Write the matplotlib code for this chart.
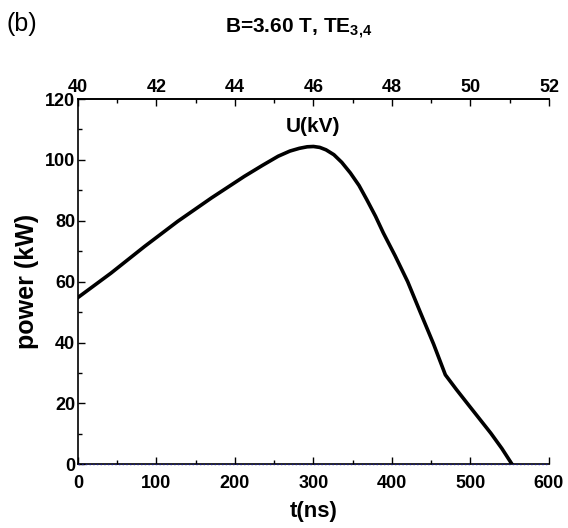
import matplotlib
matplotlib.use('Agg')
import matplotlib.pyplot as plt
from matplotlib.ticker import MultipleLocator

plt.rcParams['font.family'] = ['Liberation Sans', 'DejaVu Sans']
plt.rcParams['mathtext.fontset'] = 'custom'
plt.rcParams['mathtext.rm'] = 'Liberation Sans'
plt.rcParams['mathtext.bf'] = 'Liberation Sans:bold'

# power curve
t_ns = [0, 42, 85, 127, 170, 212, 235, 255, 270, 282, 292, 300, 308, 316,
        326, 336, 347, 358, 368, 379, 389, 404, 420, 436, 453, 468, 482,
        496, 511, 526, 540, 553]
power_kw = [54.8, 62.8, 71.6, 79.8, 87.5, 94.6, 98.2, 101.2, 102.9, 103.8,
            104.3, 104.4, 104.1, 103.3, 101.7, 99.2, 95.7, 91.6, 86.9, 81.5,
            76.0, 68.5, 60.0, 50.0, 39.5, 29.4, 24.6, 20.0, 15.1, 10.2,
            5.2, 0.0]

# flat zero trace along the bottom
zero_t = [0, 600]
zero_p = [0, 0]

top_ticks = [40, 42, 44, 46, 48, 50, 52]

fig = plt.figure(figsize=(5.68, 5.28), dpi=100)
ax = fig.add_axes([0.1373, 0.1206, 0.8292, 0.6919])

ax.plot(zero_t, zero_p, color='#1a1a8c', lw=1.0, ls=':', zorder=3, clip_on=False)
ax.plot(t_ns, power_kw, color='black', lw=2.6, zorder=4, solid_joinstyle='round')

ax.set_xlim(0, 600)
ax.set_ylim(0, 120)
ax.xaxis.set_major_locator(MultipleLocator(100))
ax.xaxis.set_minor_locator(MultipleLocator(50))
ax.yaxis.set_major_locator(MultipleLocator(20))
ax.yaxis.set_minor_locator(MultipleLocator(10))
ax.spines['right'].set_visible(False)
for s in ['left', 'bottom', 'top']:
    ax.spines[s].set_linewidth(1.2)
ax.tick_params(which='both', direction='in', width=1.0, labelsize=13)
ax.tick_params(which='major', length=5)
ax.tick_params(which='minor', length=3)
ax.tick_params(axis='x', pad=8)
ax.tick_params(axis='y', pad=2)
for lab in ax.get_xticklabels() + ax.get_yticklabels():
    lab.set_fontweight('bold')

top = ax.secondary_xaxis('top', functions=(lambda t: 40 + t / 50.0,
                                           lambda u: (u - 40) * 50.0))
top.set_xticks(top_ticks)
top.xaxis.set_minor_locator(MultipleLocator(1))
top.tick_params(which='both', direction='in', width=1.0, labelsize=13, pad=2)
top.tick_params(which='major', length=5)
top.tick_params(which='minor', length=3)
top.spines['top'].set_linewidth(1.2)
for lab in top.get_xticklabels():
    lab.set_fontweight('bold')

ax.set_xlabel('t(ns)', fontsize=16, fontweight='bold', labelpad=6)
ax.set_ylabel('power (kW)', fontsize=18, fontweight='bold', labelpad=4)

ax.text(300, 111, 'U(kV)', fontsize=15, fontweight='bold', ha='center', va='center')

fig.text(0.525, 0.945, r'B=3.60 T, TE$_{\mathbf{3{,}4}}$', fontsize=15,
         fontweight='bold', ha='center', va='center')
fig.text(0.012, 0.955, '(b)', fontsize=18, ha='left', va='center')

fig.savefig('out.png', dpi=100)
